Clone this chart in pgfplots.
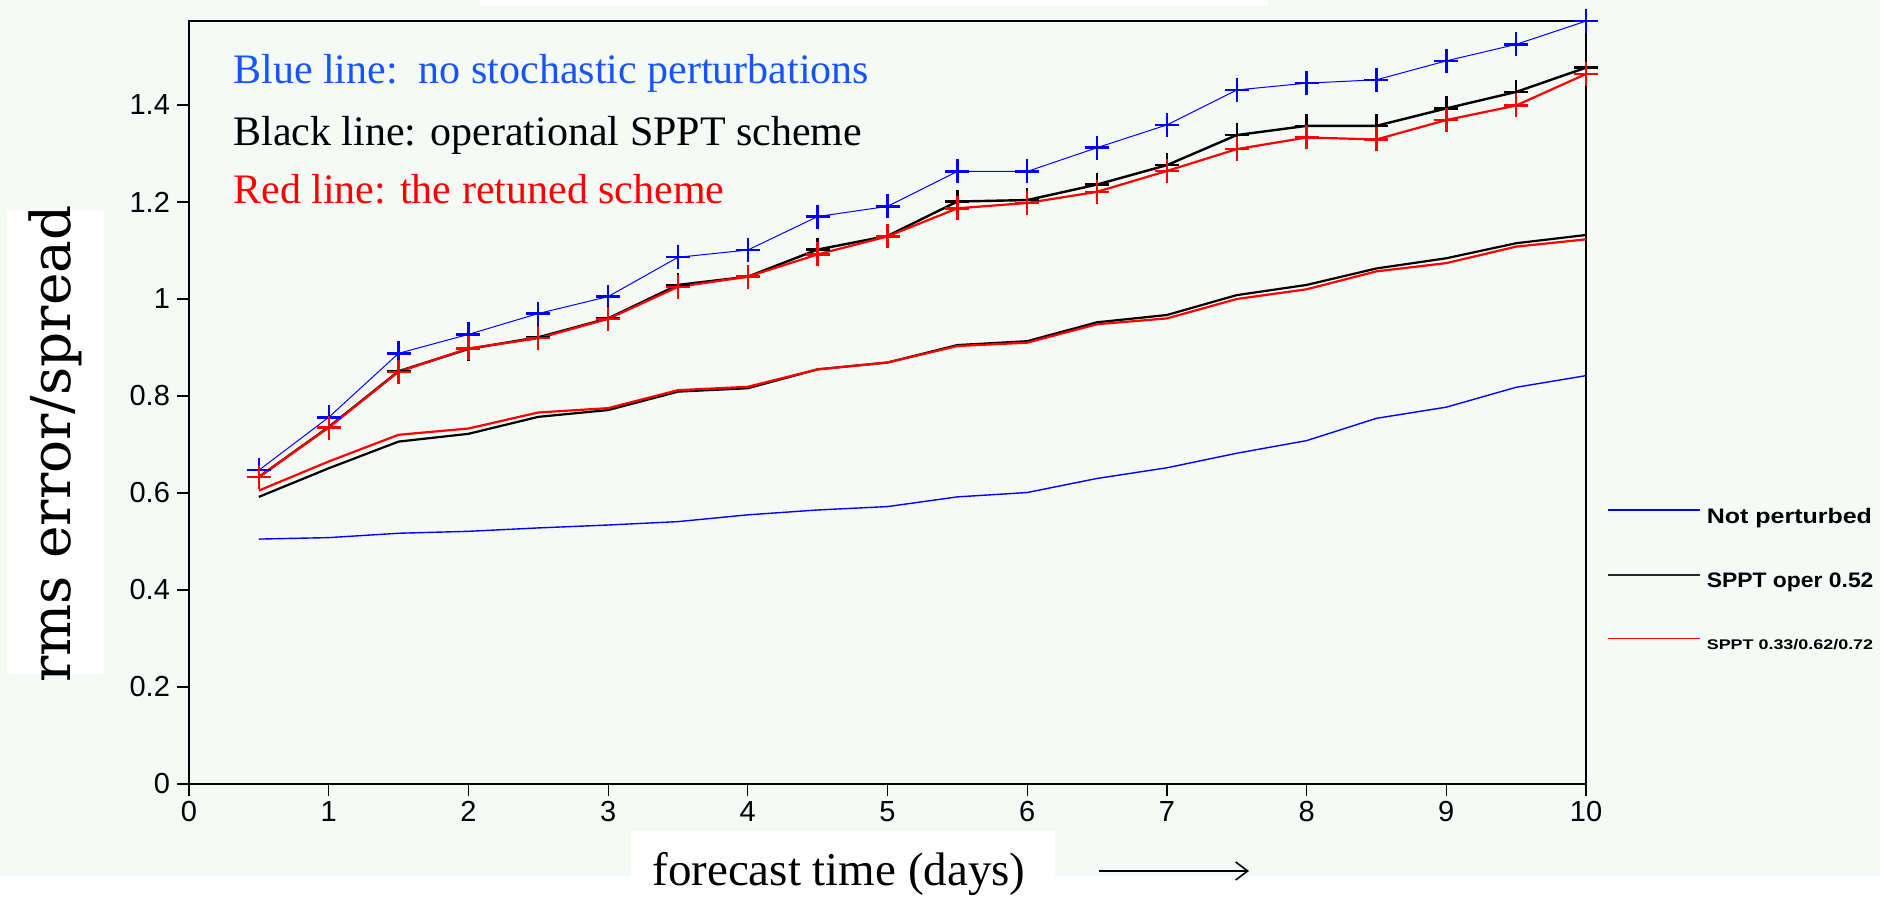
\documentclass[border=0pt]{standalone}
\usepackage{fontspec}
\setmainfont{Liberation Serif}
\newfontfamily\sansf{Liberation Sans}
\newfontfamily\dvserif{DejaVu Serif}
\usepackage{graphicx}
\usepackage{pgfplots}
\usepackage{pgfplotstable}
\pgfplotsset{compat=1.18}
\usetikzlibrary{arrows.meta}
\definecolor{bgcol}{RGB}{246,250,247}
\definecolor{txtblue}{RGB}{20,85,255}

\pgfplotstableread{
x    blueerr blackerr rederr bluespr blackspr redspr
0.5  0.647   0.633    0.633  0.505   0.592    0.605
1.0  0.756   0.736    0.735  0.508   0.651    0.665
1.5  0.888   0.851    0.850  0.517   0.706    0.720
2.0  0.927   0.897    0.898  0.521   0.722    0.733
2.5  0.970   0.921    0.919  0.528   0.757    0.766
3.0  1.005   0.960    0.959  0.534   0.771    0.775
3.5  1.086   1.029    1.025  0.541   0.809    0.812
4.0  1.101   1.046    1.046  0.555   0.816    0.819
4.5  1.170   1.102    1.092  0.565   0.855    0.855
5.0  1.191   1.130    1.129  0.572   0.869    0.869
5.5  1.263   1.201    1.187  0.592   0.905    0.903
6.0  1.263   1.204    1.198  0.601   0.913    0.910
6.5  1.312   1.236    1.221  0.630   0.952    0.948
7.0  1.359   1.276    1.264  0.652   0.967    0.960
7.5  1.431   1.338    1.309  0.682   1.008    1.000
8.0  1.445   1.357    1.333  0.708   1.029    1.020
8.5  1.452   1.357    1.329  0.754   1.063    1.057
9.0  1.491   1.393    1.369  0.777   1.084    1.074
9.5  1.525   1.427    1.399  0.818   1.115    1.108
10.0 1.573   1.477    1.464  0.842   1.132    1.123
}\data

\begin{document}
\begin{tikzpicture}
\path[use as bounding box, fill=bgcol] (-94.5pt,-56pt) rectangle (845.5pt,392pt);
\fill[white] (-94.5pt,-56pt) rectangle (845.5pt,-46pt);
\fill[white] (145.5pt,389pt) rectangle (539.5pt,392pt);
\fill[white] (-91pt,55pt) rectangle (-42.5pt,286.5pt);
\fill[white] (221pt,-56pt) rectangle (433pt,-23.5pt);
\begin{axis}[
  at={(0,0)}, anchor=south west, scale only axis,
  width=698.5pt, height=381.5pt,
  xmin=0, xmax=10, ymin=0, ymax=1.5732,
  xtick={0,1,2,3,4,5,6,7,8,9,10},
  ytick={0,0.2,0.4,0.6,0.8,1,1.2,1.4},
  yticklabels={0,0.2,0.4,0.6,0.8,1,1.2,1.4},
  tick align=outside, xtick pos=left, ytick pos=left,
  major tick length=6pt,
  axis line style={line width=0.8pt},
  tick style={line width=0.6pt, black},
  ticklabel style={font=\sansf\fontsize{14.5}{16}\selectfont},
  xticklabel style={yshift=1pt},
  /pgf/number format/assume math mode=true,
  clip=false,
  legend style={draw=none, fill=none, at={(axis cs:10,0.4206)}, anchor=west,
    xshift=7.5pt, row sep=23.5pt, column sep=3pt, nodes={inner sep=0pt}},
  legend cell align=left,
  legend image code/.code={\draw[#1] (0pt,3.5pt) -- (46pt,3.5pt);},
]
\addlegendimage{blue, line width=0.7pt}
\addlegendentry{\scalebox{1.19}[1]{\sansf\bfseries\fontsize{10.5}{12}\selectfont Not perturbed}}
\addlegendimage{black!85, line width=0.6pt}
\addlegendentry{\scalebox{1.09}[1]{\sansf\bfseries\fontsize{10.5}{12}\selectfont SPPT oper 0.52}}
\addlegendimage{red, line width=0.7pt}
\addlegendentry{\scalebox{1.28}[1]{\sansf\bfseries\fontsize{7}{8}\selectfont SPPT 0.33/0.62/0.72}}

\addplot[forget plot, blue, line width=0.7pt] table[x=x, y=bluespr] {\data};
\addplot[forget plot, black, line width=1.1pt] table[x=x, y=blackspr] {\data};
\addplot[forget plot, red, line width=1.1pt] table[x=x, y=redspr] {\data};
\addplot[forget plot, blue, line width=0.5pt, mark=+, mark size=6pt, mark options={line width=1.2pt}] table[x=x, y=blueerr] {\data};
\addplot[forget plot, black, line width=1.2pt, mark=+, mark size=6pt, mark options={line width=1.2pt}] table[x=x, y=blackerr] {\data};
\addplot[forget plot, red, line width=1.1pt, mark=+, mark size=6pt, mark options={line width=1.2pt}] table[x=x, y=rederr] {\data};
\end{axis}
\node[anchor=base west, inner sep=0pt, text=txtblue, font=\fontsize{21}{24}\selectfont] at (22pt,350pt) {Blue line:\ \ no stochastic perturbations};
\node[anchor=base west, inner sep=0pt, text=black, font=\fontsize{21}{24}\selectfont] at (22pt,319pt) {Black line: operational SPPT scheme};
\node[anchor=base west, inner sep=0pt, text=red, font=\fontsize{21}{24}\selectfont] at (22pt,290.5pt) {Red line: the retuned scheme};
\node[rotate=90, inner sep=0pt, font=\dvserif\fontsize{27.5}{30}\selectfont] at (-67pt,170pt) {rms error/spread};
\node[anchor=base west, inner sep=0pt, font=\fontsize{23.5}{26}\selectfont] at (231.5pt,-50.5pt) {forecast time (days)};
\draw[line width=0.8pt, -{Straight Barb[length=6pt,width=9pt]}] (455pt,-43.5pt) -- (530pt,-43.5pt);
\end{tikzpicture}
\end{document}
